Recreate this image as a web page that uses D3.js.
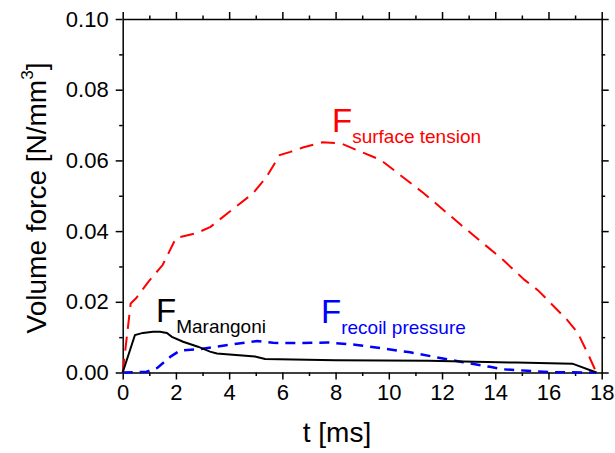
<!DOCTYPE html>
<html>
<head>
<meta charset="utf-8">
<script src="https://cdn.jsdelivr.net/npm/d3@7"></script>
<style>
  body { margin: 0; background: #fff; }
  text { font-family: "Liberation Sans", Arial, sans-serif; }
  .axis path, .axis line { stroke: #000; stroke-width: 1.5; }
</style>
</head>
<body>
<svg id="svg1" width="615" height="453"></svg>
<script>
// time [ms]
const tSurface = [0, 0.3, 0.5, 1.0, 1.5, 2.0, 2.8, 3.3, 4.0, 4.9, 5.4, 5.9, 6.3, 6.8, 7.5, 8.2, 8.8, 9.7, 11.3, 12.8, 14.3, 15.1, 15.6, 16.7, 17.1, 17.5, 17.8];
const fSurface = [0, 0.0195, 0.021, 0.026, 0.0304, 0.038, 0.0395, 0.0412, 0.0454, 0.0507, 0.0553, 0.0615, 0.0624, 0.0637, 0.0651, 0.0648, 0.0629, 0.0601, 0.0508, 0.0412, 0.0318, 0.0262, 0.0233, 0.0149, 0.0112, 0.005, 0];

const tMarangoni = [0, 0.46, 0.76, 1.14, 1.4, 1.66, 1.85, 2.27, 2.83, 3.28, 3.54, 4.97, 5.35, 8, 11.5, 14.8, 16.9, 17.8];
const fMarangoni = [0, 0.0106, 0.0112, 0.0115, 0.0115, 0.0112, 0.0101, 0.0087, 0.0073, 0.0059, 0.0054, 0.0045, 0.0038, 0.0035, 0.0033, 0.0028, 0.0025, 0];

const tRecoil = [0, 0.9, 1.3, 1.8, 2.15, 2.9, 3.5, 4.15, 5.05, 5.65, 6.66, 7.7, 8.8, 9.8, 10.8, 11.8, 12.8, 13.8, 14.3, 15.2, 16, 17.8];
const fRecoil = [0, 0.0002, 0.0013, 0.0045, 0.0062, 0.0066, 0.0073, 0.008, 0.0089, 0.0084, 0.0083, 0.0085, 0.0078, 0.0068, 0.0057, 0.0043, 0.0029, 0.0016, 0.0009, 0.0005, 0.0001, 0];

const xTicks = [0, 2, 4, 6, 8, 10, 12, 14, 16, 18];
const yTicks = [0, 0.02, 0.04, 0.06, 0.08, 0.10];

const svg = d3.select('#svg1');

const x = d3.scaleLinear().domain([0, 18]).range([122.7, 601.7]);
const y = d3.scaleLinear().domain([0, 0.1]).range([372.5, 19]);

const xMinor = d3.range(1, 18, 2);
const yMinor = d3.range(0.01, 0.1, 0.02);

// minor ticks
function minor(axis, vals) {
  return axis.tickValues(vals).tickSize(3.5).tickFormat('');
}
svg.append('g').attr('class', 'axis').attr('transform', `translate(0,${y(0)})`)
  .call(minor(d3.axisBottom(x), xMinor)).select('.domain').remove();
svg.append('g').attr('class', 'axis').attr('transform', `translate(0,${y(0.1)})`)
  .call(minor(d3.axisTop(x), xMinor)).select('.domain').remove();
svg.append('g').attr('class', 'axis').attr('transform', `translate(${x(0)},0)`)
  .call(minor(d3.axisLeft(y), yMinor)).select('.domain').remove();
svg.append('g').attr('class', 'axis').attr('transform', `translate(${x(18)},0)`)
  .call(minor(d3.axisRight(y), yMinor)).select('.domain').remove();

// major ticks + labels
const xAxis = svg.append('g').attr('class', 'axis').attr('transform', `translate(0,${y(0)})`)
  .call(d3.axisBottom(x).tickValues(xTicks).tickSize(7).tickSizeOuter(0).tickPadding(5).tickFormat(d3.format('d')));
xAxis.selectAll('text').attr('font-size', 22).attr('fill', '#000').style('font-family', '"Liberation Sans", Arial, sans-serif');

const yAxis = svg.append('g').attr('class', 'axis').attr('transform', `translate(${x(0)},0)`)
  .call(d3.axisLeft(y).tickValues(yTicks).tickSize(7).tickSizeOuter(0).tickPadding(7).tickFormat(d3.format('.2f')));
yAxis.selectAll('text').attr('font-size', 22).attr('fill', '#000').style('font-family', '"Liberation Sans", Arial, sans-serif');

svg.append('g').attr('class', 'axis').attr('transform', `translate(0,${y(0.1)})`)
  .call(d3.axisTop(x).tickValues(xTicks).tickSize(7).tickSizeOuter(0).tickFormat(''));
svg.append('g').attr('class', 'axis').attr('transform', `translate(${x(18)},0)`)
  .call(d3.axisRight(y).tickValues(yTicks).tickSize(7).tickSizeOuter(0).tickFormat(''));

// curves
const line = d3.line().x(d => x(d[0])).y(d => y(d[1]));

svg.append('path')
  .datum(d3.zip(tSurface, fSurface))
  .attr('d', line).attr('fill', 'none').attr('stroke', '#ff0000')
  .attr('stroke-width', 2).attr('stroke-dasharray', '14,8');

svg.append('path')
  .datum(d3.zip(tRecoil, fRecoil))
  .attr('d', line).attr('fill', 'none').attr('stroke', '#0000ff')
  .attr('stroke-width', 2.5).attr('stroke-dasharray', '10,7');

svg.append('path')
  .datum(d3.zip(tMarangoni, fMarangoni))
  .attr('d', line).attr('fill', 'none').attr('stroke', '#000')
  .attr('stroke-width', 2);

// axis titles
svg.append('text')
  .attr('x', 337).attr('y', 442)
  .attr('text-anchor', 'middle').attr('font-size', 28)
  .text('t [ms]');

const yTitle = svg.append('text')
  .attr('transform', 'translate(46,198) rotate(-90)')
  .attr('text-anchor', 'middle').attr('font-size', 28);
yTitle.append('tspan').text('Volume force [N/mm');
yTitle.append('tspan').attr('font-size', 17).attr('dy', -13).text('3');
yTitle.append('tspan').attr('dy', 13).text(']');

// annotations
function label(px, py, sub, color) {
  const t = svg.append('text').attr('x', px).attr('y', py).attr('fill', color);
  t.append('tspan').attr('font-size', 33).text('F');
  t.append('tspan').attr('font-size', 19).attr('dy', 11).text(sub);
}
label(332, 132, 'surface tension', '#ff0000');
label(156, 322, 'Marangoni', '#000');
label(321, 323, 'recoil pressure', '#0000ff');
</script>
</body>
</html>
